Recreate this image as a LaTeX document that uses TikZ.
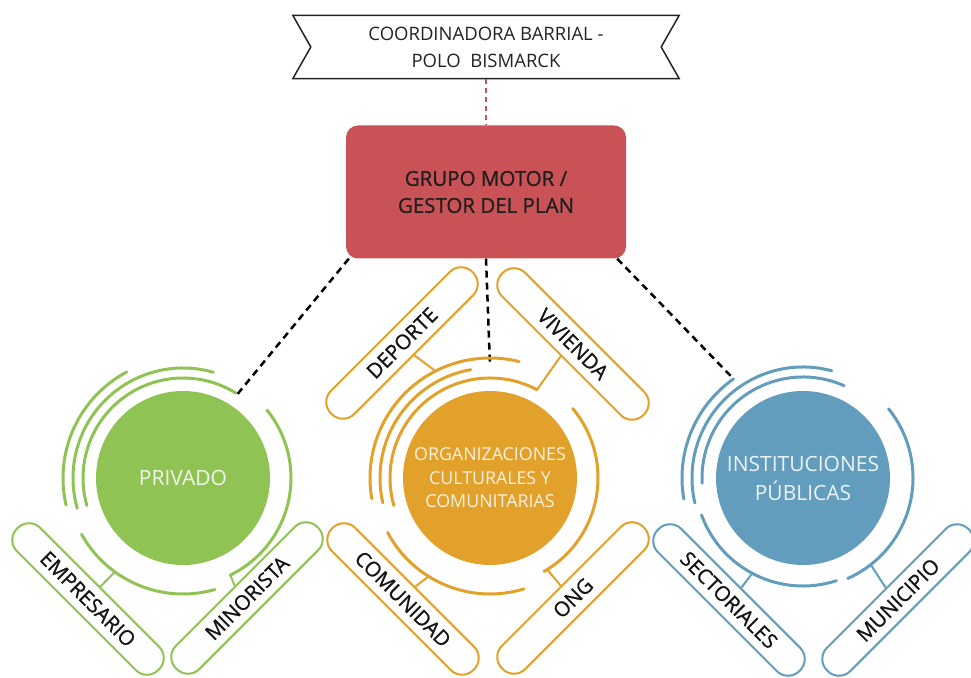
\documentclass[tikz,border=0pt]{standalone}
\usepackage{fontspec}
\setmainfont{Open Sans}
\newfontfamily\semifont{Open Sans}[FakeBold=0.9]
\usetikzlibrary{calc}
\definecolor{motorred}{RGB}{200,82,86}
\definecolor{privgreen}{RGB}{143,195,84}
\definecolor{orgorange}{RGB}{226,161,42}
\definecolor{instblue}{RGB}{98,157,190}
\definecolor{bannergray}{RGB}{35,35,35}
\definecolor{pillink}{RGB}{20,20,20}
% arc round a hub: colour, hub, start angle, end angle, radius
\newcommand{\ringarc}[5]{\draw[ring,#1] ($(#2)+(#3:#5)$) arc[start angle=#3,end angle=#4,radius=#5];}

\begin{document}
\begin{tikzpicture}[x=1pt, y=1pt,
  ring/.style={line width=3pt, line cap=round},
  stalk/.style={line width=2pt},
  link/.style={line width=2.5pt, dash pattern=on 7pt off 5pt},
  banner/.style={minimum width=386pt, minimum height=63pt, inner sep=0pt, align=center, text=bannergray, font=\fontsize{18.5}{27}\selectfont},
  motorbox/.style={fill=motorred, rounded corners=12pt, minimum width=280pt, minimum height=133pt, align=center, text=black!88, font=\semifont\fontsize{20.5}{27}\selectfont},
  hub/.style={circle, fill=#1, minimum size=174pt, inner sep=0pt, align=center},
  pill/.style={draw=#1, line width=2pt, fill=white, rounded corners=16pt, minimum width=200pt, minimum height=33pt, inner sep=0pt, text=pillink, font=\semifont\fontsize{20.5}{24}\selectfont}]
		%%%%% START %%%%%
		\useasboundingbox (0,0) rectangle (971,677);
		
		\node[banner] (coordinadora) at (486,630) {COORDINADORA BARRIAL -\\POLO\ \ BISMARCK};
		\draw[line width=1.5pt, bannergray] (coordinadora.north west) -- (coordinadora.north east) -- ($(coordinadora.east)+(-18,0)$) -- (coordinadora.south east) -- (coordinadora.south west) -- ($(coordinadora.west)+(18,0)$) -- cycle;
		
		\node[motorbox] (motor) at (486,485) {GRUPO MOTOR /\\GESTOR DEL PLAN};
		\draw[motorred, line width=2pt, dash pattern=on 5pt off 4pt] (coordinadora.south) -- (motor.north);
		
		\node[hub=privgreen, text=white!88!privgreen, font=\fontsize{21}{24}\selectfont] (privado) at (183,199) {PRIVADO};
		\node[hub=orgorange, text=white!85!orgorange, font=\fontsize{17.8}{23.5}\selectfont] (organizaciones) at (490,199) {ORGANIZACIONES\\CULTURALES Y\\COMUNITARIAS};
		\node[hub=instblue, text=white!88!instblue, font=\fontsize{21}{29}\selectfont] (instituciones) at (803,199) {INSTITUCIONES\\PÚBLICAS};
		
		\coordinate (privado-top) at ($(privado)+(57:100)$);
		\coordinate (org-top) at ($(organizaciones)+(90:112)$);
		\coordinate (inst-top) at ($(instituciones)+(125:121)$);
		\draw[link] ($(motor.south west)+(3,0)$) -- (privado-top);
		\draw[link] (motor.south) -- (org-top);
		\draw[link] ($(motor.south east)+(-9,0)$) -- (inst-top);
		
		% privado
		\ringarc{privgreen}{privado}{58}{196}{100}
		\ringarc{privgreen}{privado}{74}{196}{110}
		\ringarc{privgreen}{privado}{118}{193}{120}
		\ringarc{privgreen}{privado}{39}{-64}{108}
		\ringarc{privgreen}{privado}{209}{286}{116}
		\node[pill=privgreen, rotate=-45] (empresario) at (88,78) {EMPRESARIO};
		\node[pill=privgreen, rotate=45] (minorista) at (247,79) {MINORISTA};
		\coordinate (privado-e) at ($(privado)+(234:116)$);
		\coordinate (privado-m) at ($(privado)+(-64:108)$);
		\draw[stalk, privgreen] (privado-e) -- (empresario.north);
		\draw[stalk, privgreen] (privado-m) -- (minorista.north);
		
		% organizaciones
		\ringarc{orgorange}{organizaciones}{62}{196}{100}
		\ringarc{orgorange}{organizaciones}{100}{193}{110}
		\ringarc{orgorange}{organizaciones}{76}{190}{120}
		\ringarc{orgorange}{organizaciones}{40}{-60}{108}
		\ringarc{orgorange}{organizaciones}{208}{287}{116}
		\node[pill=orgorange, rotate=45] (deporte) at (402,334) {DEPORTE};
		\node[pill=orgorange, rotate=-45] (vivienda) at (573,333) {VIVIENDA};
		\node[pill=orgorange, rotate=-45] (comunidad) at (403,78) {COMUNIDAD};
		\node[pill=orgorange, rotate=45] (ong) at (573,79) {ONG};
		\coordinate (org-d) at ($(organizaciones)+(117:120)$);
		\coordinate (org-v) at ($(organizaciones)+(62:100)$);
		\coordinate (org-c) at ($(organizaciones)+(238:116)$);
		\coordinate (org-o) at ($(organizaciones)+(-58:108)$);
		\draw[stalk, orgorange] (org-d) -- (deporte.south);
		\draw[stalk, orgorange] (org-v) -- (vivienda.south);
		\draw[stalk, orgorange] (org-c) -- (comunidad.north);
		\draw[stalk, orgorange] (org-o) -- (ong.north);
		
		% instituciones
		\ringarc{instblue}{instituciones}{66}{183}{101}
		\ringarc{instblue}{instituciones}{75}{193}{111}
		\ringarc{instblue}{instituciones}{125}{190}{121}
		\ringarc{instblue}{instituciones}{39}{-66}{110}
		\ringarc{instblue}{instituciones}{200}{288}{108}
		\node[pill=instblue, rotate=-45] (sectoriales) at (729,77) {SECTORIALES};
		\node[pill=instblue, rotate=45] (municipio) at (898,77) {MUNICIPIO};
		\coordinate (inst-s) at ($(instituciones)+(242:108)$);
		\coordinate (inst-m) at ($(instituciones)+(-52:110)$);
		\draw[stalk, instblue] (inst-s) -- (sectoriales.north);
		\draw[stalk, instblue] (inst-m) -- (municipio.north);
		
		%%%%% END %%%%%
\end{tikzpicture}
\end{document}
